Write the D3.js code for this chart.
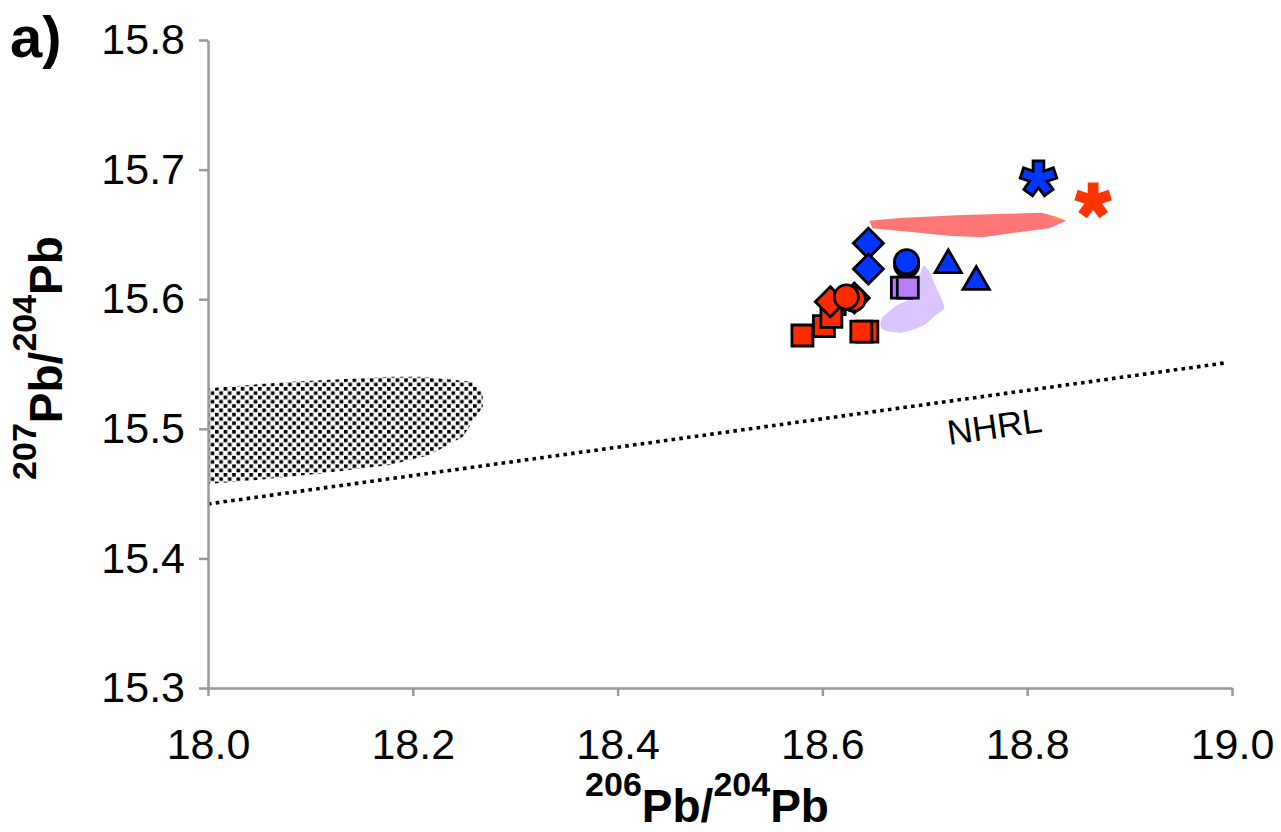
<!DOCTYPE html>
<html lang="en">
<head>
<meta charset="UTF-8">
<title>Pb isotopes</title>
<script src="https://d3js.org/d3.v7.min.js"></script>
<style>
  body { margin: 0; background: #fff; }
  svg { display: block; font-family: Arial, "Liberation Sans", sans-serif; }
  .axis path, .axis line { stroke: #9a9a9a; stroke-width: 2.5; }
  .axis text { font-size: 43px; fill: #000; }
</style>
</head>
<body>
<svg width="1281" height="832"></svg>
<script>
// ---- data (206Pb/204Pb, 207Pb/204Pb) ----
var xTicks = [18.0, 18.2, 18.4, 18.6, 18.8, 19.0];
var yTicks = [15.3, 15.4, 15.5, 15.6, 15.7, 15.8];

var nhrl = [[18.0, 15.442], [18.995, 15.551]];

var stippleField = [[18.0, 15.5313], [18.08, 15.5363], [18.1776, 15.5402], [18.2098, 15.5402],
  [18.2585, 15.5363], [18.2683, 15.5276], [18.2683, 15.517], [18.2488, 15.4939],
  [18.2166, 15.4798], [18.1776, 15.4721], [18.1122, 15.4657], [18.0478, 15.4605], [18.0, 15.4574]];

var pinkField = [[18.6459, 15.6606], [18.6751, 15.6627], [18.7366, 15.665], [18.8146, 15.6667],
  [18.8283, 15.6637], [18.838, 15.6606], [18.8215, 15.6547], [18.7951, 15.6521],
  [18.7561, 15.6478], [18.7268, 15.6488], [18.6488, 15.6547]];

var yellowTip = [[18.8244, 15.6637], [18.838, 15.6612], [18.8250, 15.6624]];

var lilacField = [[18.6988, 15.6258], [18.7044, 15.6212], [18.7109, 15.6096], [18.719, 15.5938],
  [18.7109, 15.5878], [18.6978, 15.5793], [18.6768, 15.5742], [18.6582, 15.5768],
  [18.6582, 15.5853], [18.6719, 15.5948], [18.6881, 15.6019], [18.6946, 15.6174]];

var redSquares = [[18.6120, 15.5963], [18.6015, 15.5793], [18.6088, 15.5863], [18.5805, 15.572],
  [18.6439, 15.575], [18.638, 15.575]];
var redDiamonds = [[18.6078, 15.5981], [18.6312, 15.601]];
var redCircles = [[18.6302, 15.6002], [18.6234, 15.6017]];
var blueDiamonds = [[18.6449, 15.6431], [18.6449, 15.6233]];
var blueCircles = [[18.6822, 15.6264], [18.6822, 15.6289]];
var purpleSquares = [[18.6776, 15.6089], [18.6834, 15.6089]];
var blueTriangles = [[18.7229, 15.6264], [18.7502, 15.6135]];
var blueStar = [[18.8110, 15.6932]];
var redStar = [[18.8644, 15.6761]];

// ---- layout ----
var svg = d3.select("svg");
var plotL = 208, plotR = 1232, plotT = 40, plotB = 688;

var x = d3.scaleLinear().domain([18.0, 19.0]).range([plotL, plotR]);
var y = d3.scaleLinear().domain([15.3, 15.8]).range([plotB, plotT]);

var defs = svg.append("defs");
var pat = defs.append("pattern").attr("id", "stipple")
  .attr("patternUnits", "userSpaceOnUse").attr("width", 8.6).attr("height", 8.6);
pat.append("rect").attr("x", 0).attr("y", 0).attr("width", 3.6).attr("height", 3.6).attr("fill", "#000");
pat.append("rect").attr("x", 4.3).attr("y", 4.3).attr("width", 3.6).attr("height", 3.6).attr("fill", "#000");

var area = d3.line().x(function (d) { return x(d[0]); }).y(function (d) { return y(d[1]); });
var smooth = d3.line().curve(d3.curveCardinalClosed.tension(0.3))
  .x(function (d) { return x(d[0]); }).y(function (d) { return y(d[1]); });

// fields
svg.append("path").datum(stippleField).attr("d", area).attr("fill", "url(#stipple)");
svg.append("path").datum(pinkField).attr("d", area).attr("fill", "#ff7676");
svg.append("path").datum(yellowTip).attr("d", area).attr("fill", "#ffb400");
svg.append("path").datum(lilacField).attr("d", smooth).attr("fill", "#dcc5ff");

// NHRL
svg.append("path").datum(nhrl).attr("d", area)
  .attr("fill", "none").attr("stroke", "#000").attr("stroke-width", 3.6)
  .attr("stroke-dasharray", "3.6,4.2");

var ang = Math.atan2(y(nhrl[1][1]) - y(nhrl[0][1]), x(nhrl[1][0]) - x(nhrl[0][0])) * 180 / Math.PI;
svg.append("text").attr("transform", "translate(949,445) rotate(" + ang + ")")
  .attr("font-size", 35).text("NHRL");

// axes
svg.append("g").attr("class", "axis")
  .attr("transform", "translate(0," + plotB + ")")
  .call(d3.axisBottom(x).tickValues(xTicks).tickFormat(d3.format(".1f"))
    .tickSize(8).tickSizeOuter(0).tickPadding(32));

svg.append("g").attr("class", "axis")
  .attr("transform", "translate(" + plotL + ",0)")
  .call(d3.axisLeft(y).tickValues(yTicks).tickFormat(d3.format(".1f"))
    .tickSize(9).tickSizeOuter(0).tickPadding(14));

// symbols
function asterisk(R, w) {
  var p = [], rIn = w / Math.sin(36 * Math.PI / 180);
  for (var i = 0; i < 5; i++) {
    var th = (-90 + i * 72) * Math.PI / 180, a0 = th - 36 * Math.PI / 180;
    var ux = Math.cos(th), uy = Math.sin(th), px = -uy, py = ux;
    p.push([rIn * Math.cos(a0), rIn * Math.sin(a0)]);
    p.push([R * ux - w * px, R * uy - w * py]);
    p.push([R * ux + w * px, R * uy + w * py]);
  }
  return "M" + p.map(function (d) { return d[0].toFixed(2) + "," + d[1].toFixed(2); }).join("L") + "Z";
}

function marks(data, d, fill, stroke, rot) {
  svg.append("g").selectAll("path").data(data).enter().append("path")
    .attr("transform", function (v) {
      return "translate(" + x(v[0]) + "," + y(v[1]) + ")" + (rot ? " rotate(" + rot + ")" : "");
    })
    .attr("d", d)
    .attr("fill", fill)
    .attr("stroke", stroke || "none")
    .attr("stroke-width", 2.8)
    .attr("stroke-linejoin", "miter");
}

var sq = d3.symbol().type(d3.symbolSquare).size(441)();
var dia = d3.symbol().type(d3.symbolSquare).size(450)();
var circ = d3.symbol().type(d3.symbolCircle).size(460)();
var tri = d3.symbol().type(d3.symbolTriangle).size(300)();

marks(redSquares, sq, "#ff2a00", "#000");
marks(redDiamonds, dia, "#ff2a00", "#000", 45);
marks(redCircles, circ, "#ff2a00", "#000");
marks(blueDiamonds, dia, "#0036ff", "#000", 45);
marks(blueCircles, circ, "#0036ff", "#000");
marks(purpleSquares, sq, "#b97cff", "#000");
marks(blueTriangles, tri, "#0036ff", "#000");
marks(blueStar, asterisk(17.5, 5.4), "#0036ff", "#000");
marks(redStar, asterisk(18, 5.4), "#ff3300", null);

// titles
svg.append("text").attr("x", 10).attr("y", 57)
  .attr("font-size", 58).attr("font-weight", "bold").text("a)");

var xt = svg.append("text").attr("x", 707).attr("y", 822)
  .attr("text-anchor", "middle").attr("font-weight", "bold").attr("font-size", 46);
xt.append("tspan").attr("font-size", 34).attr("dy", -26).text("206");
xt.append("tspan").attr("dy", 26).text("Pb/");
xt.append("tspan").attr("font-size", 34).attr("dy", -26).text("204");
xt.append("tspan").attr("dy", 26).text("Pb");

var yt = svg.append("text").attr("transform", "translate(62,358) rotate(-90)")
  .attr("text-anchor", "middle").attr("font-weight", "bold").attr("font-size", 46);
yt.append("tspan").attr("font-size", 34).attr("dy", -26).text("207");
yt.append("tspan").attr("dy", 26).text("Pb/");
yt.append("tspan").attr("font-size", 34).attr("dy", -26).text("204");
yt.append("tspan").attr("dy", 26).text("Pb");
</script>
</body>
</html>
